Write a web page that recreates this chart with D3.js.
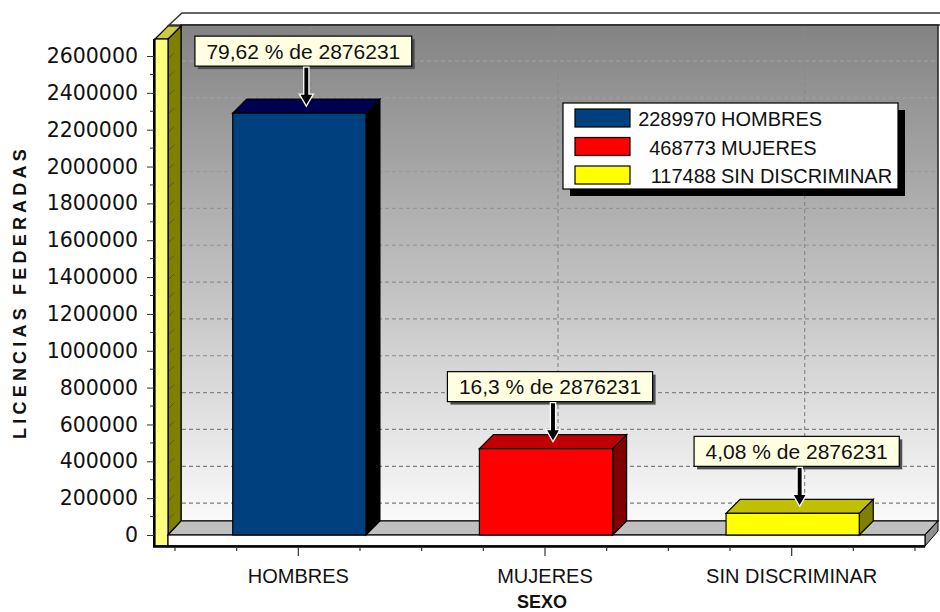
<!DOCTYPE html>
<html>
<head>
<meta charset="utf-8">
<script src="https://cdn.jsdelivr.net/npm/d3@7/dist/d3.min.js"></script>
<style>
  html, body { margin: 0; padding: 0; background: #ffffff; }
  svg { display: block; }
</style>
</head>
<body>
<svg id="chart" width="940" height="612"></svg>
<script>
// ---------- data ----------
const categories = ["HOMBRES", "MUJERES", "SIN DISCRIMINAR"];
const values = [2289970, 468773, 117488];
const total = 2876231;
const percentLabels = ["79,62", "16,3", "4,08"];
const legendNames = ["HOMBRES", "MUJERES", "SIN DISCRIMINAR"];
const yTickValues = [0, 200000, 400000, 600000, 800000, 1000000, 1200000, 1400000, 1600000, 1800000, 2000000, 2200000, 2400000, 2600000];
const yTitle = "LICENCIAS FEDERADAS";
const xTitle = "SEXO";

// ---------- styles ----------
const frontColors = ["#00407f", "#ff0000", "#ffff00"];
const topColors = ["#000050", "#c00000", "#c0c000"];
const sideColors = ["#000000", "#800000", "#808000"];

const svg = d3.select("#chart");

// geometry
const plotLeft = 168, plotRight = 925;   // front plane
const floorY = 535;
const DX = 13, DY = 14;                 // wall depth
const BDX = 14, BDY = 14;               // bar depth
const backTop = 25;

const y = d3.scaleLinear().domain([0, 2600000]).range([floorY, 56]);
const x = d3.scaleBand().domain(categories).range([175, 915]).padding(0);
const barW = x.bandwidth() * 0.54;

const line = d3.line();
const poly = pts => line(pts) + "Z";

// ---------- back wall ----------
const defs = svg.append("defs");
const grad = defs.append("linearGradient").attr("id", "wallGrad")
  .attr("x1", 0).attr("y1", 0).attr("x2", 0).attr("y2", 1);
grad.append("stop").attr("offset", "0%").attr("stop-color", "#838383");
grad.append("stop").attr("offset", "100%").attr("stop-color", "#fafafa");

// top strip
svg.append("path")
  .attr("d", poly([[plotLeft + 1, backTop], [plotLeft + DX + 1, backTop - 12], [942, backTop - 12], [942, backTop]]))
  .attr("fill", "#ffffff").attr("stroke", "#333").attr("stroke-width", 1.5);

svg.append("rect")
  .attr("x", plotLeft + DX).attr("y", backTop)
  .attr("width", 938 - (plotLeft + DX)).attr("height", floorY - DY - backTop)
  .attr("fill", "url(#wallGrad)").attr("stroke", "#222").attr("stroke-width", 1.5);

// horizontal gridlines (back wall)
const gridColor = d3.interpolateRgb("#a6a6a6", "#7a7a7a");
svg.append("g").selectAll("line")
  .data(yTickValues.filter(v => v > 0))
  .join("line")
  .attr("x1", plotLeft + DX + 1).attr("x2", 936)
  .attr("y1", d => y(d) + 5).attr("y2", d => y(d) + 5)
  .attr("stroke", d => gridColor((y(d) + 5 - backTop) / (floorY - DY - backTop)))
  .attr("stroke-width", 1.2)
  .attr("stroke-dasharray", "4,3");

// vertical gridlines (back wall) at category centres
svg.append("g").selectAll("line")
  .data(categories)
  .join("line")
  .attr("x1", d => x(d) + x.bandwidth() / 2 + DX)
  .attr("x2", d => x(d) + x.bandwidth() / 2 + DX)
  .attr("y1", backTop + 2).attr("y2", floorY - DY)
  .attr("stroke", "#8a8a8a").attr("stroke-width", 1.2)
  .attr("stroke-dasharray", "4,3");

// ---------- left wall ----------
const wallTop = 39;
// inner olive face
svg.append("path")
  .attr("d", poly([[plotLeft, wallTop], [plotLeft + DX, wallTop - DY + 1], [plotLeft + DX, floorY - DY], [plotLeft, floorY]]))
  .attr("fill", "#808000").attr("stroke", "#000").attr("stroke-width", 1.2);
// small diagonal tick marks on olive face
svg.append("g").selectAll("line")
  .data(d3.range(100000, 2600001, 100000))
  .join("line")
  .attr("x1", plotLeft + 1).attr("x2", plotLeft + 6)
  .attr("y1", d => y(d) + 2).attr("y2", d => y(d) - 3)
  .attr("stroke", "#5a5a20").attr("stroke-width", 1);
// top face
svg.append("path")
  .attr("d", poly([[155, wallTop], [155 + DX, wallTop - DY + 1], [plotLeft + DX, wallTop - DY + 1], [plotLeft, wallTop]]))
  .attr("fill", "#cccc44").attr("stroke", "#000").attr("stroke-width", 1.2);
// front face
svg.append("rect")
  .attr("x", 155).attr("y", wallTop).attr("width", plotLeft - 155).attr("height", 546 - wallTop)
  .attr("fill", "#ffff80").attr("stroke", "#000").attr("stroke-width", 1.2);

// ---------- floor ----------
svg.append("path")
  .attr("d", poly([[plotLeft, floorY], [plotLeft + DX, floorY - DY], [938, floorY - DY], [plotRight, floorY]]))
  .attr("fill", "#c0c0c0").attr("stroke", "#000").attr("stroke-width", 1.2);
svg.append("path")
  .attr("d", poly([[plotRight, floorY], [938, floorY - DY], [938, floorY - DY + 10], [plotRight, 546]]))
  .attr("fill", "#909090").attr("stroke", "#000").attr("stroke-width", 1);
svg.append("rect")
  .attr("x", plotLeft).attr("y", floorY).attr("width", plotRight - plotLeft).attr("height", 546 - floorY)
  .attr("fill", "#ffffff").attr("stroke", "#000").attr("stroke-width", 1.2);

// ---------- bars ----------
const bars = svg.append("g").selectAll("g")
  .data(categories.map((c, i) => ({ c, v: values[i], i })))
  .join("g");

const bx = d => x(d.c) + x.bandwidth() / 2 - barW / 2 + 1;

bars.append("path") // side
  .attr("d", d => poly([[bx(d) + barW, y(d.v)], [bx(d) + barW + BDX, y(d.v) - BDY], [bx(d) + barW + BDX, floorY - BDY], [bx(d) + barW, floorY]]))
  .attr("fill", d => sideColors[d.i]).attr("stroke", "#000").attr("stroke-width", 1.2);
bars.append("path") // top
  .attr("d", d => poly([[bx(d), y(d.v)], [bx(d) + BDX, y(d.v) - BDY], [bx(d) + barW + BDX, y(d.v) - BDY], [bx(d) + barW, y(d.v)]]))
  .attr("fill", d => topColors[d.i]).attr("stroke", "#000").attr("stroke-width", 1.2);
bars.append("rect") // front
  .attr("x", d => bx(d)).attr("y", d => y(d.v))
  .attr("width", barW).attr("height", d => floorY - y(d.v))
  .attr("fill", d => frontColors[d.i]).attr("stroke", "#000").attr("stroke-width", 1.2);

// ---------- axes ----------
// y axis line + ticks
svg.append("line").attr("x1", 154).attr("x2", 154).attr("y1", wallTop).attr("y2", 547)
  .attr("stroke", "#000").attr("stroke-width", 2);
const yAxis = d3.axisLeft(y).tickValues(yTickValues).tickSize(7).tickPadding(9).tickFormat(d3.format("d"));
const gy = svg.append("g").attr("transform", "translate(154,0)").call(yAxis);
gy.select(".domain").remove();
gy.selectAll("text")
  .attr("font-family", "'DejaVu Sans', Verdana, sans-serif")
  .attr("font-size", "20.5px").attr("fill", "#111");
gy.selectAll(".tick line").attr("stroke", "#333");
// minor ticks
svg.append("g").selectAll("line")
  .data(d3.range(100000, 2600000, 200000))
  .join("line")
  .attr("x1", 150).attr("x2", 154)
  .attr("y1", d => y(d)).attr("y2", d => y(d))
  .attr("stroke", "#333");

// x axis line
svg.append("line").attr("x1", 153).attr("x2", plotRight).attr("y1", 546.5).attr("y2", 546.5)
  .attr("stroke", "#000").attr("stroke-width", 2.5);
// x ticks: quarter-band ticks, long ones at centres
const quarterTicks = d3.range(0, categories.length * 4 + 1).map(k => ({
  pos: x.range()[0] + k * x.bandwidth() / 4,
  major: k % 4 === 2
}));
svg.append("g").selectAll("line")
  .data(quarterTicks)
  .join("line")
  .attr("x1", d => d.pos).attr("x2", d => d.pos)
  .attr("y1", 547).attr("y2", d => d.major ? 556 : 551)
  .attr("stroke", "#333").attr("stroke-width", 1.2);

// category labels
svg.append("g").selectAll("text")
  .data(categories)
  .join("text")
  .attr("x", d => x(d) + x.bandwidth() / 2)
  .attr("y", 583)
  .attr("text-anchor", "middle")
  .attr("font-family", "'Liberation Sans', Arial, sans-serif")
  .attr("font-size", "20px").attr("fill", "#111")
  .text(d => d);

// axis titles
svg.append("text")
  .attr("x", 542).attr("y", 608)
  .attr("text-anchor", "middle")
  .attr("font-family", "'Liberation Sans', Arial, sans-serif")
  .attr("font-weight", "bold").attr("font-size", "18px").attr("fill", "#111")
  .text(xTitle);

svg.append("text")
  .attr("transform", "translate(26,292) rotate(-90)")
  .attr("text-anchor", "middle")
  .attr("font-family", "'Liberation Sans', Arial, sans-serif")
  .attr("font-weight", "bold").attr("font-size", "18px").attr("fill", "#111")
  .attr("letter-spacing", "4.2px")
  .text(yTitle);

// ---------- callouts ----------
const callouts = svg.append("g").selectAll("g")
  .data(categories.map((c, i) => ({ c, v: values[i], i, label: percentLabels[i] + " % de " + total })))
  .join("g");

callouts.each(function (d) {
  const g = d3.select(this);
  const tipX = bx(d) + barW / 2 + BDX / 2;
  const tipY = y(d.v) - BDY / 2;
  const boxBottom = tipY - 40;
  const boxH = 30;
  const txt = g.append("text")
    .attr("font-family", "'Liberation Sans', Arial, sans-serif")
    .attr("font-size", "21px").attr("fill", "#111")
    .attr("text-anchor", "middle")
    .attr("x", tipX - 3).attr("y", boxBottom - boxH + 22.5)
    .text(d.label);
  const w = txt.node().getComputedTextLength() + 23;
  const bxl = tipX - 3 - w / 2;
  g.insert("rect", "text")
    .attr("x", bxl + 3).attr("y", boxBottom - boxH + 3).attr("width", w).attr("height", boxH)
    .attr("fill", "#505050");
  g.insert("rect", "text")
    .attr("x", bxl).attr("y", boxBottom - boxH).attr("width", w).attr("height", boxH)
    .attr("fill", "#ffffe1").attr("stroke", "#000").attr("stroke-width", 1.2);
  // arrow
  const sw = 2.6, hw = 7, hl = 12;
  const top = boxBottom + 1;
  g.append("path")
    .attr("d", poly([
      [tipX - sw, top], [tipX + sw, top], [tipX + sw, tipY - hl], [tipX + hw, tipY - hl],
      [tipX, tipY], [tipX - hw, tipY - hl], [tipX - sw, tipY - hl]
    ]))
    .attr("fill", "#000").attr("stroke", "#fff").attr("stroke-width", 1.3);
});

// ---------- legend ----------
const lg = svg.append("g");
lg.append("rect").attr("x", 570).attr("y", 110).attr("width", 335).attr("height", 86).attr("fill", "#000");
lg.append("rect").attr("x", 563).attr("y", 103).attr("width", 335).attr("height", 86)
  .attr("fill", "#fff").attr("stroke", "#000").attr("stroke-width", 1.2);
const rows = lg.selectAll("g.row")
  .data(legendNames.map((n, i) => ({ n, v: values[i], i })))
  .join("g").attr("class", "row")
  .attr("transform", d => `translate(0,${109 + d.i * 28.5})`);
rows.append("rect").attr("x", 575).attr("y", 0).attr("width", 55).attr("height", 18)
  .attr("fill", d => frontColors[d.i]).attr("stroke", "#000").attr("stroke-width", 1.2);
rows.append("text").attr("x", 716).attr("y", 17)
  .attr("text-anchor", "end")
  .attr("font-family", "'Liberation Sans', Arial, sans-serif")
  .attr("font-size", "20px").attr("fill", "#111")
  .text(d => d.v);
rows.append("text").attr("x", 721).attr("y", 17)
  .attr("font-family", "'Liberation Sans', Arial, sans-serif")
  .attr("font-size", "20px").attr("fill", "#111")
  .text(d => d.n);
</script>
</body>
</html>
